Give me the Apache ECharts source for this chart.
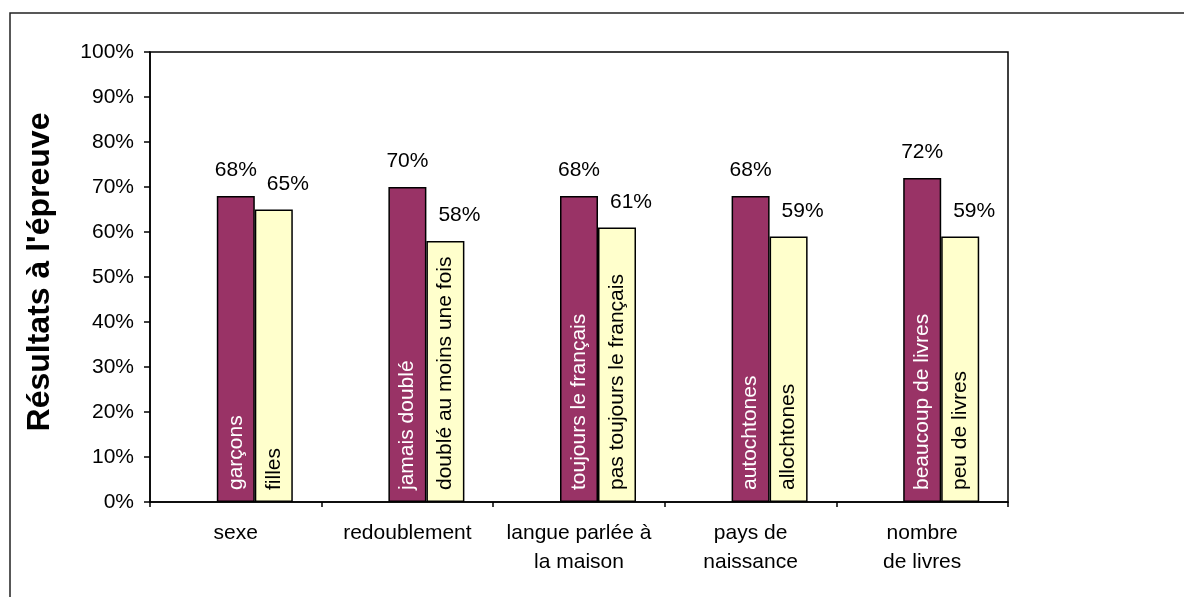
<!DOCTYPE html>
<html>
<head>
<meta charset="utf-8">
<script src="https://cdn.jsdelivr.net/npm/echarts@6/dist/echarts.min.js"></script>
<style>
  html, body { margin: 0; padding: 0; background: #fff; }
  #chart { width: 1184px; height: 597px; }
</style>
</head>
<body>
<div id="chart"></div>
<script>
const categories = ["sexe", "redoublement", "langue parlée à\nla maison", "pays de\nnaissance", "nombre\nde livres"];
const firstValues = [68, 70, 68, 68, 72];
const secondValues = [65, 58, 61, 59, 59];
const firstNames = ["garçons", "jamais doublé", "toujours le français", "autochtones", "beaucoup de livres"];
const secondNames = ["filles", "doublé au moins une fois", "pas toujours le français", "allochtones", "peu de livres"];
const emptySlot = ["-", "-", "-", "-", "-"];

const FONT = "Liberation Sans, Arial, sans-serif";
const MAROON = "#993366";
const CREAM = "#ffffcc";

const chart = echarts.init(document.getElementById("chart"));

function barBase(axisIdx) {
  return {
    type: "bar",
    xAxisIndex: axisIdx,
    barWidth: 38,
    barGap: 0,
    animation: false,
  };
}

function insideLabel(names, color) {
  return {
    show: true,
    position: "insideBottom",
    distance: 12,
    rotate: 90,
    align: "left",
    verticalAlign: "middle",
    color: color,
    fontFamily: FONT,
    fontSize: 21,
    formatter: (p) => names[p.dataIndex],
  };
}

function topLabel(dx) {
  return {
    show: true,
    position: "top",
    distance: 15,
    offset: [dx, 0],
    color: "#000",
    fontFamily: FONT,
    fontSize: 21,
    formatter: (p) => p.value + "%",
  };
}

const option = {
  backgroundColor: "#fff",
  textStyle: { fontFamily: FONT },
  graphic: [{
    type: "rect",
    shape: { x: 10, y: 13, width: 1300, height: 700 },
    style: { fill: "none", stroke: "#222", lineWidth: 1.5 },
    silent: true,
  }],
  grid: {
    left: 150, right: 176, top: 52, bottom: 95,
    show: true, borderColor: "#000", borderWidth: 1.5,
  },
  xAxis: [{
    type: "category",
    data: categories,
    axisLine: { lineStyle: { color: "#000", width: 1.5 } },
    axisTick: { show: true, length: 5, lineStyle: { color: "#000", width: 1.5 } },
    axisLabel: {
      color: "#000", fontFamily: FONT, fontSize: 21, lineHeight: 29,
      margin: 17, interval: 0, verticalAlign: "top",
    },
  }, {
    type: "category",
    data: categories,
    show: false,
  }],
  yAxis: {
    type: "value",
    min: 0, max: 100, interval: 10,
    name: "Résultats à l'épreuve",
    nameLocation: "middle",
    nameRotate: 90,
    nameGap: 94,
    nameTextStyle: { color: "#000", fontFamily: FONT, fontSize: 32, fontWeight: "bold", padding: [0, 0, 0, 10] },
    splitLine: { show: false },
    axisLine: { show: true, lineStyle: { color: "#000", width: 1.5 } },
    axisTick: { show: true, length: 6, lineStyle: { color: "#000", width: 1.5 } },
    axisLabel: { color: "#000", fontFamily: FONT, fontSize: 21, margin: 16, formatter: "{value}%" },
  },
  series: [
    { ...barBase(0), name: "vide", data: emptySlot },
    {
      ...barBase(0), name: "groupe 1", data: firstValues,
      itemStyle: { color: MAROON, borderColor: "#000", borderWidth: 1.5 },
      label: insideLabel(firstNames, "#fff"),
    },
    {
      ...barBase(0), name: "groupe 2", data: secondValues,
      itemStyle: { color: CREAM, borderColor: "#000", borderWidth: 1.5 },
      label: insideLabel(secondNames, "#000"),
    },
    { ...barBase(1), name: "vide-l", data: emptySlot },
    {
      ...barBase(1), name: "étiquette 1", data: firstValues,
      itemStyle: { color: "transparent" },
      label: topLabel(0),
      silent: true,
    },
    {
      ...barBase(1), name: "étiquette 2", data: secondValues,
      itemStyle: { color: "transparent" },
      label: topLabel(14),
      silent: true,
    },
  ],
};

chart.setOption(option);
</script>
</body>
</html>
